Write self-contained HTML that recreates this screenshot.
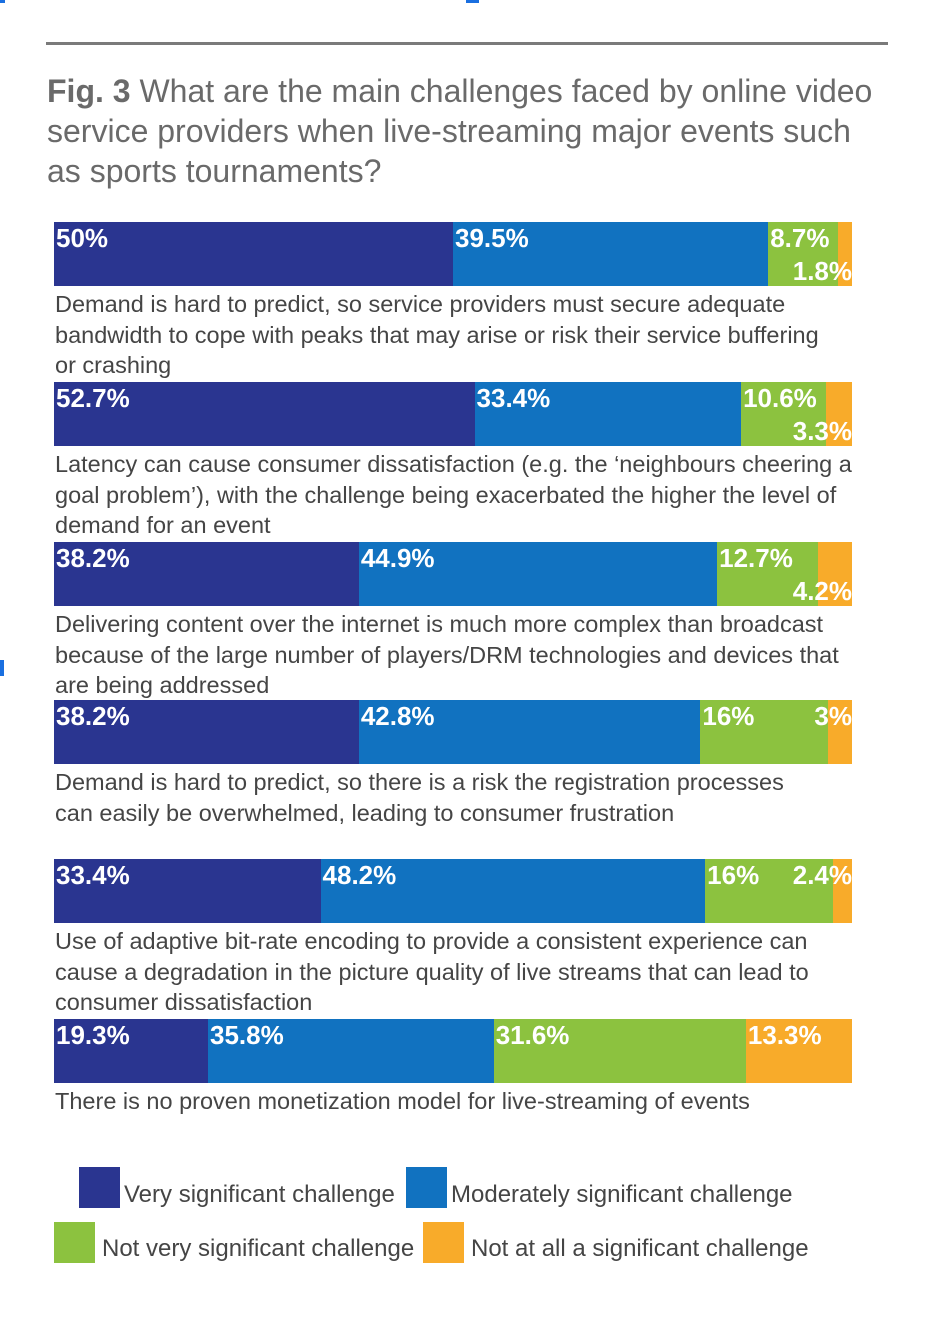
<!DOCTYPE html>
<html><head><meta charset="utf-8"><style>
body{margin:0;width:942px;height:1340px;background:#fff;position:relative;overflow:hidden;font-family:"Liberation Sans Narrow","Liberation Sans",sans-serif}
.abs{position:absolute}
.title{left:47px;top:71px;font-size:32px;line-height:40px;color:#6a6a6a;width:880px;white-space:nowrap}
.desc{position:absolute;left:55px;font-size:23.5px;line-height:30.5px;color:#454545;width:880px;white-space:nowrap}
.lbl{position:absolute;color:#fff;font-weight:bold;font-size:26px;white-space:nowrap}
.leg{position:absolute;font-size:24px;color:#454545}
.sw{position:absolute;width:41px;height:41px}
</style></head><body>
<div class="abs" style="left:0;top:0;width:5px;height:3px;background:#1a6fe0"></div>
<div class="abs" style="left:466px;top:0;width:13px;height:3px;background:#1a6fe0"></div>
<div class="abs" style="left:0;top:660px;width:4px;height:16px;background:#1a6fe0"></div>
<div class="abs" style="left:46px;top:42px;width:842px;height:3px;background:#7a7a7a"></div>
<div class="abs title"><b style="color:#6a6a6a">Fig. 3</b> What are the main challenges faced by online video<br>service providers when live-streaming major events such<br>as sports tournaments?</div>
<div id="chart"></div>

<div class="sw" style="left:79px;top:1167px;background:#2a3590"></div>
<div class="leg" style="left:124px;top:1181px">Very significant challenge</div>
<div class="sw" style="left:406px;top:1167px;background:#1172c0"></div>
<div class="leg" style="left:451px;top:1181px">Moderately significant challenge</div>
<div class="sw" style="left:54px;top:1222px;background:#8cc23f"></div>
<div class="leg" style="left:102px;top:1235px">Not very significant challenge</div>
<div class="sw" style="left:423px;top:1222px;background:#f8ab2a"></div>
<div class="leg" style="left:471px;top:1235px">Not at all a significant challenge</div>

<script>
const categories=[
"Demand is hard to predict, so service providers must secure adequate\nbandwidth to cope with peaks that may arise or risk their service buffering\nor crashing",
"Latency can cause consumer dissatisfaction (e.g. the ‘neighbours cheering a\ngoal problem’), with the challenge being exacerbated the higher the level of\ndemand for an event",
"Delivering content over the internet is much more complex than broadcast\nbecause of the large number of players/DRM technologies and devices that\nare being addressed",
"Demand is hard to predict, so there is a risk the registration processes\ncan easily be overwhelmed, leading to consumer frustration",
"Use of adaptive bit-rate encoding to provide a consistent experience can\ncause a degradation in the picture quality of live streams that can lead to\nconsumer dissatisfaction",
"There is no proven monetization model for live-streaming of events"];
const verySig=[50,52.7,38.2,38.2,33.4,19.3];
const modSig=[39.5,33.4,44.9,42.8,48.2,35.8];
const notVery=[8.7,10.6,12.7,16,16,31.6];
const notAtAll=[1.8,3.3,4.2,3,2.4,13.3];
const colors=["#2a3590","#1172c0","#8cc23f","#f8ab2a"];
const X0=54,W=798,BH=64,tops=[222,382,542,700,859,1019];
const x=v=>X0+v/100*W;
const chart=document.getElementById('chart');
categories.forEach((c,i)=>{
  const vals=[verySig[i],modSig[i],notVery[i],notAtAll[i]];
  const tot=vals.reduce((a,b)=>a+b,0);
  let acc=0;
  vals.forEach((v,j)=>{
    const s=document.createElement('div');
    
    
    const x1=x(acc/tot*100),x2=x((acc+v)/tot*100);
    s.className='abs';
    s.style.cssText=`left:${x1}px;top:${tops[i]}px;width:${x2-x1}px;height:${BH}px;background:${colors[j]}`;
    chart.appendChild(s);
    const l=document.createElement('div');
    
    
    l.className='lbl';
    l.textContent=v+'%';
    let top=tops[i]+1;
    if(j==3 && v<5){
      l.style.right=(942-X0-W)+'px';
      if(vals[2]<14) top=tops[i]+34;
    } else l.style.left=(x1+2)+'px';
    l.style.top=top+'px';
    chart.appendChild(l);
    acc+=v;
  });
  const d=document.createElement('div');
  
  
  d.className='desc';
  d.style.top=(tops[i]+BH+3)+'px';
  d.innerHTML=c.split('\n').join('<br>');
  chart.appendChild(d);
});
</script>
</body></html>
